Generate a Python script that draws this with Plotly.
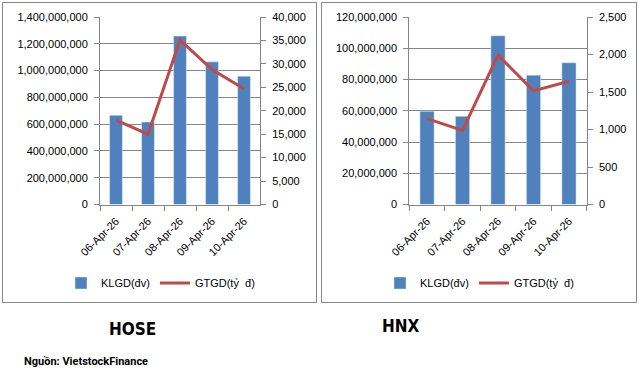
import plotly.graph_objects as go

dates = ["06-Apr-26", "07-Apr-26", "08-Apr-26", "09-Apr-26", "10-Apr-26"]
hose_klgd = [666_000_000, 616_000_000, 1_258_000_000, 1_065_000_000, 958_000_000]
hose_gtgd = [18_000, 15_000, 35_100, 28_800, 24_700]
hnx_klgd = [59_700_000, 56_500_000, 108_000_000, 82_800_000, 90_700_000]
hnx_gtgd = [1_146, 989, 1_992, 1_515, 1_644]

BAR = "#4F81BD"
LINE = "#BE4B48"
GRID = "#868686"
FONT = "Liberation Sans"
W, H = 639, 373

def px(x):
    return x / W

def py(y):
    return 1 - y / H

fig = go.Figure()

fig.add_trace(go.Bar(x=dates, y=hose_klgd, name="KLGD(đv)", marker_color=BAR,
                     xaxis="x", yaxis="y", legend="legend"))
fig.add_trace(go.Scatter(x=dates, y=hose_gtgd, name="GTGD(tỷ  đ)", mode="lines",
                         line=dict(color=LINE, width=3), xaxis="x", yaxis="y2", legend="legend"))
fig.add_trace(go.Bar(x=dates, y=hnx_klgd, name="KLGD(đv)", marker_color=BAR,
                     xaxis="x2", yaxis="y3", legend="legend2"))
fig.add_trace(go.Scatter(x=dates, y=hnx_gtgd, name="GTGD(tỷ  đ)", mode="lines",
                         line=dict(color=LINE, width=3), xaxis="x2", yaxis="y4", legend="legend2"))

ydom = [py(204.5), py(17)]
tickfont = dict(family=FONT, size=11, color="#000000")

xcommon = dict(type="category", tickangle=-45, ticks="outside", tickson="boundaries",
               ticklen=5, tickcolor=GRID, showline=True, linecolor=GRID, linewidth=1,
               showgrid=False, tickfont=tickfont, automargin=False, ticklabelstandoff=5)
ycommon = dict(ticks="outside", ticklen=5, tickcolor=GRID, showline=True, linecolor=GRID,
               linewidth=1, tickformat=",d", tickfont=tickfont, zeroline=False,
               automargin=False, ticklabelstandoff=4)

legfont = dict(family=FONT, size=11, color="#000000")

fig.update_layout(
    width=W, height=H,
    autosize=False,
    margin=dict(l=0, r=0, t=0, b=0, pad=0, autoexpand=False),
    paper_bgcolor="white", plot_bgcolor="white",
    bargap=0.6,
    font=dict(family=FONT, size=11, color="#000000"),
    xaxis=dict(domain=[px(100), px(260)], anchor="y", **xcommon),
    yaxis=dict(domain=ydom, anchor="x", range=[0, 1_400_000_000], dtick=200_000_000,
               showgrid=True, gridcolor=GRID, gridwidth=1, **ycommon),
    yaxis2=dict(overlaying="y", side="right", anchor="x", range=[0, 40_000], dtick=5_000,
                showgrid=False, **ycommon),
    xaxis2=dict(domain=[px(409.3), px(586.7)], anchor="y3", **xcommon),
    yaxis3=dict(domain=ydom, anchor="x2", range=[0, 120_000_000], dtick=20_000_000,
                showgrid=True, gridcolor=GRID, gridwidth=1, **ycommon),
    yaxis4=dict(overlaying="y3", side="right", anchor="x2", range=[0, 2_500], dtick=500,
                showgrid=False, **ycommon),
    legend=dict(orientation="h", x=px(61), y=py(283), xanchor="left", yanchor="middle",
                font=legfont, itemwidth=30, bgcolor="rgba(0,0,0,0)", traceorder="normal"),
    legend2=dict(orientation="h", x=px(380), y=py(283), xanchor="left", yanchor="middle",
                 font=legfont, itemwidth=30, bgcolor="rgba(0,0,0,0)", traceorder="normal"),
    shapes=[
        dict(type="rect", xref="paper", yref="paper", x0=px(2.5), x1=px(316.5),
             y0=py(302.5), y1=py(2.5), line=dict(color=GRID, width=1)),
        dict(type="rect", xref="paper", yref="paper", x0=px(321.5), x1=px(636.5),
             y0=py(302.5), y1=py(2.5), line=dict(color=GRID, width=1)),
    ],
    annotations=[
        dict(text="<b>HOSE</b>", x=px(132), y=py(329), xref="paper", yref="paper",
             showarrow=False, xanchor="center", yanchor="middle",
             font=dict(family="DejaVu Sans Condensed", size=17, color="#000000")),
        dict(text="<b>HNX</b>", x=px(401), y=py(326), xref="paper", yref="paper",
             showarrow=False, xanchor="center", yanchor="middle",
             font=dict(family="DejaVu Sans Condensed", size=17, color="#000000")),
        dict(text="<b>Nguồn: VietstockFinance</b>", x=px(22), y=py(361), xref="paper", yref="paper",
             showarrow=False, xanchor="left", yanchor="middle",
             font=dict(family="Roboto", size=11, color="#000000")),
    ],
)

fig.write_html("out.html",
               config={"displayModeBar": False},
               post_script="document.body.style.margin='0';document.body.style.overflow='hidden';")
